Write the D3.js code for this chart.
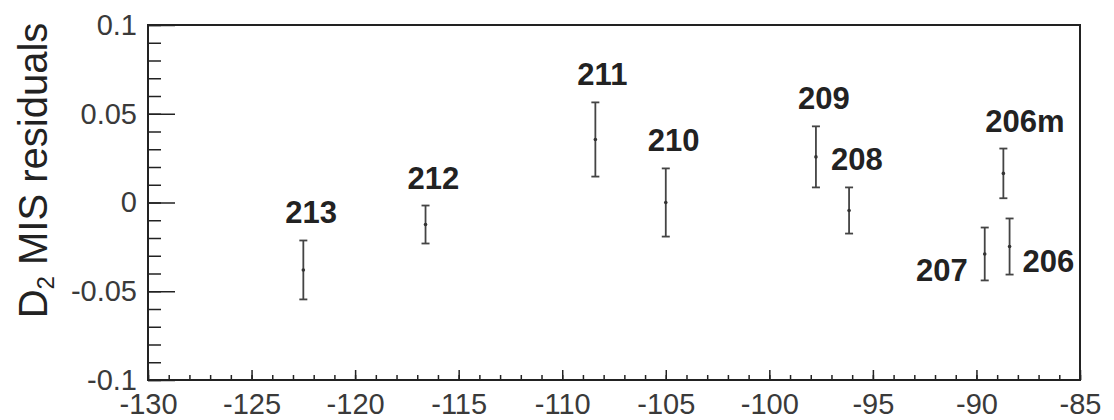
<!DOCTYPE html>
<html>
<head>
<meta charset="utf-8">
<script src="https://cdn.jsdelivr.net/npm/d3@7"></script>
<style>
  html, body { margin: 0; padding: 0; background: #fff; }
  svg { display: block; }
</style>
</head>
<body>
<svg id="chart" width="1114" height="420"></svg>
<script>
// ---- data ----
const runs      = ["213", "212", "211", "210", "209", "208", "207", "206", "206m"];
const tempC     = [-122.5, -116.6, -108.4, -105.0, -97.75, -96.15, -89.6, -88.4, -88.7];
const residual  = [-0.038, -0.0124, 0.0355, 0.0, 0.0257, -0.0045, -0.029, -0.0248, 0.0164];
const errors    = [0.0166, 0.0107, 0.0209, 0.0192, 0.0172, 0.013, 0.0149, 0.0158, 0.014];
const labelSide = ["above", "above", "above", "above", "above", "above", "left", "right", "above"];

const xTickValues = [-130, -125, -120, -115, -110, -105, -100, -95, -90, -85];
const xTickLabels = ["-130", "-125", "-120", "-115", "-110", "-105", "-100", "-95", "-90", "-85"];
const yTickValues = [-0.1, -0.05, 0, 0.05, 0.1];
const yTickLabels = ["-0.1", "-0.05", "0", "0.05", "0.1"];

// ---- layout ----
const L = 148, R = 1080, T = 25, B = 380;
const svg = d3.select("#chart");
const x = d3.scaleLinear().domain([-130, -85]).range([L, R]);
const y = d3.scaleLinear().domain([-0.1, 0.1]).range([B, T]);

const font = "'Liberation Sans', Arial, Helvetica, sans-serif";
const axisColor = "#222";
const labelColor = "#3a3a3a";

// minor ticks
const xMinor = d3.range(-130, -85 + 0.001, 1);
const yMinor = d3.range(-0.1, 0.1 + 1e-9, 0.01);

svg.append("g")
  .attr("transform", `translate(0,${B})`)
  .call(d3.axisBottom(x).tickValues(xMinor).tickSize(-5).tickSizeOuter(0).tickFormat(""))
  .call(g => g.select(".domain").remove())
  .call(g => g.selectAll("line").attr("stroke", axisColor).attr("stroke-width", 1.5));

svg.append("g")
  .attr("transform", `translate(${L},0)`)
  .call(d3.axisLeft(y).tickValues(yMinor).tickSize(-13).tickSizeOuter(0).tickFormat(""))
  .call(g => g.select(".domain").remove())
  .call(g => g.selectAll("line").attr("stroke", axisColor).attr("stroke-width", 1.5));

// major ticks + labels
const xAxis = svg.append("g")
  .attr("transform", `translate(0,${B})`)
  .call(d3.axisBottom(x).tickValues(xTickValues).tickSize(-10).tickSizeOuter(0).tickPadding(13)
    .tickFormat((d, i) => xTickLabels[i]));
xAxis.select(".domain").remove();
xAxis.selectAll("line").attr("stroke", axisColor).attr("stroke-width", 1.5);
xAxis.selectAll("text").attr("font-family", font).attr("font-size", 29).attr("fill", labelColor);

const yAxis = svg.append("g")
  .attr("transform", `translate(${L},0)`)
  .call(d3.axisLeft(y).tickValues(yTickValues).tickSize(-27).tickSizeOuter(0).tickPadding(11)
    .tickFormat((d, i) => yTickLabels[i]));
yAxis.select(".domain").remove();
yAxis.selectAll("line").attr("stroke", axisColor).attr("stroke-width", 1.5);
yAxis.selectAll("text").attr("font-family", font).attr("font-size", 29).attr("fill", labelColor);

// frame
svg.append("rect")
  .attr("x", L).attr("y", T).attr("width", R - L).attr("height", B - T)
  .attr("fill", "none").attr("stroke", axisColor).attr("stroke-width", 2);

// y title
const title = svg.append("text")
  .attr("transform", `translate(47,${(T + 320) / 2 - 2}) rotate(-90)`)
  .attr("text-anchor", "middle")
  .attr("font-family", font).attr("font-size", 40).attr("fill", "#222");
title.append("tspan").text("D");
title.append("tspan").attr("font-size", 24).attr("dy", 7).text("2");
title.append("tspan").attr("dy", -7).text(" MIS residuals");

// error bars
const pts = runs.map((r, i) => ({ run: r, t: tempC[i], v: residual[i], e: errors[i], side: labelSide[i] }));
const eb = svg.append("g").attr("stroke", "#444").attr("stroke-width", 1.8);
const capW = 4;
pts.forEach(p => {
  const cx = x(p.t), y0 = y(p.v - p.e), y1 = y(p.v + p.e);
  eb.append("line").attr("x1", cx).attr("x2", cx).attr("y1", y0).attr("y2", y1);
  eb.append("line").attr("x1", cx - capW).attr("x2", cx + capW).attr("y1", y0).attr("y2", y0);
  eb.append("line").attr("x1", cx - capW).attr("x2", cx + capW).attr("y1", y1).attr("y2", y1);
  svg.append("circle").attr("cx", cx).attr("cy", y(p.v)).attr("r", 1.8).attr("fill", "#333");
});

// run labels
pts.forEach(p => {
  const cx = x(p.t), yTop = y(p.v + p.e), yBot = y(p.v - p.e);
  let tx, ty, anchor;
  if (p.side === "above") { tx = cx - 18; ty = yTop - 17; anchor = "start"; }
  else if (p.side === "left") { tx = cx - 17; ty = yBot + 1; anchor = "end"; }
  else { tx = cx + 13; ty = yBot - 3; anchor = "start"; }
  svg.append("text")
    .attr("x", tx).attr("y", ty).attr("text-anchor", anchor)
    .attr("font-family", font).attr("font-size", 31).attr("font-weight", "bold")
    .attr("fill", "#222").text(p.run);
});
</script>
</body>
</html>
